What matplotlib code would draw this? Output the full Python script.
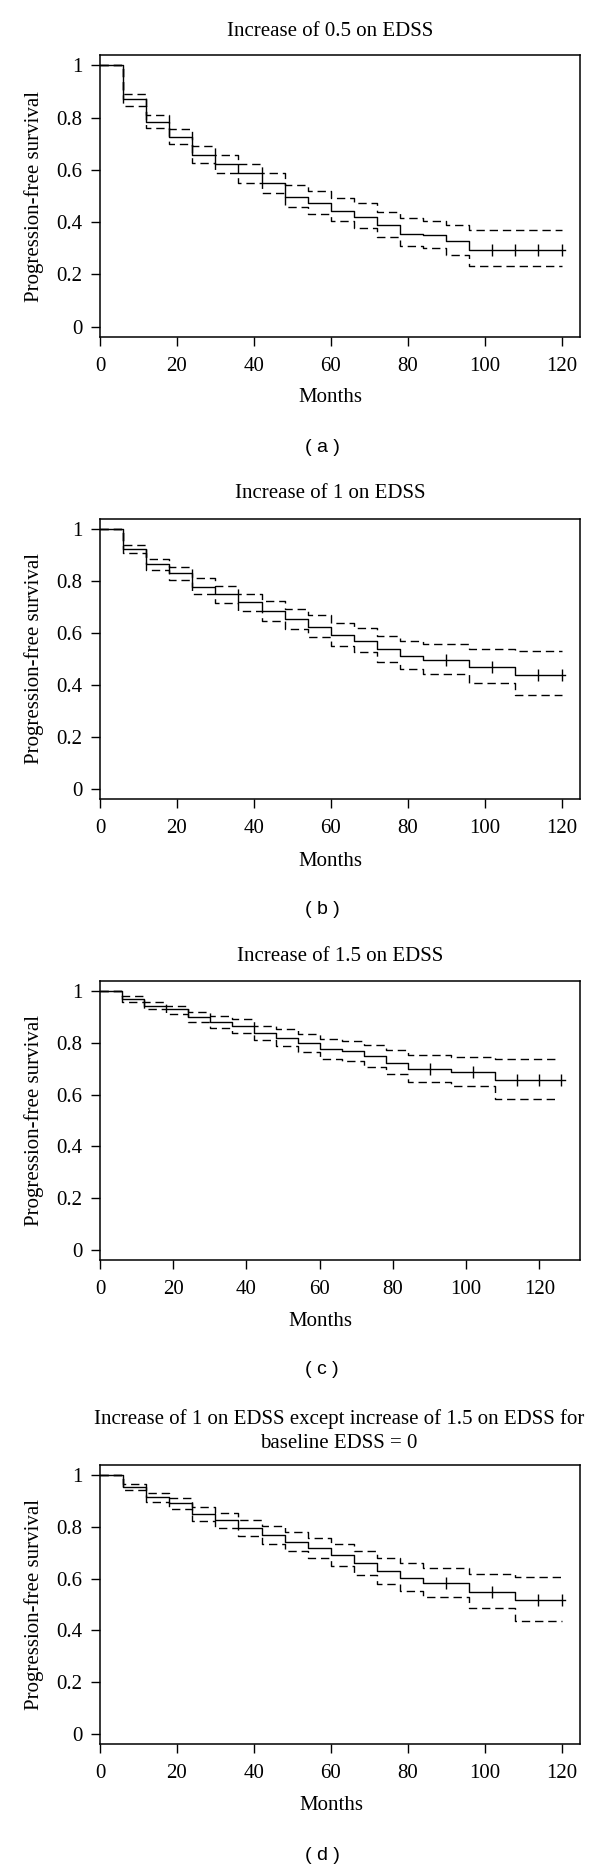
import matplotlib
matplotlib.use("Agg")
import matplotlib.pyplot as plt

plt.rcParams['font.family'] = ['Liberation Serif', 'DejaVu Serif']

# step times (months) shared by all four curves
times = [0, 6, 12, 18, 24, 30, 36, 42, 48, 54, 60, 66, 72, 78, 84, 90, 96]
times_bcd = [0, 6, 12, 18, 24, 30, 36, 42, 48, 54, 60, 66, 72, 78, 84, 96, 108]

# (a) increase of 0.5 on EDSS
surv_a = [1, .872, .785, .726, .656, .622, .587, .549, .495, .472, .444, .421, .388, .356, .349, .327, .295]
upper_a = [1, .892, .81, .756, .69, .656, .623, .587, .541, .518, .491, .472, .44, .414, .405, .388, .369]
lower_a = [1, .846, .759, .699, .626, .587, .551, .51, .456, .432, .405, .378, .344, .308, .299, .273, .232]
censor_a = [102, 108, 114, 120]

# (b) increase of 1 on EDSS
surv_b = [1, .924, .866, .832, .778, .749, .718, .684, .653, .622, .593, .571, .538, .511, .497, .469, .438]
upper_b = [1, .941, .886, .855, .811, .78, .752, .722, .693, .668, .639, .619, .589, .568, .556, .538, .53]
lower_b = [1, .907, .843, .804, .75, .717, .684, .648, .615, .583, .551, .526, .49, .46, .443, .407, .361]
censor_b = [90, 102, 114, 120]

# (c) increase of 1.5 on EDSS
surv_c = [1, .969, .943, .931, .901, .883, .865, .839, .82, .801, .776, .768, .749, .724, .701, .687, .656]
upper_c = [1, .981, .96, .945, .921, .905, .891, .867, .853, .835, .817, .807, .793, .772, .753, .746, .74]
lower_c = [1, .958, .93, .912, .88, .858, .839, .81, .788, .765, .739, .73, .708, .681, .65, .633, .584]
censor_c = [90, 102, 114, 120, 126]

# (d) increase of 1, or 1.5 for baseline EDSS = 0
surv_d = [1, .955, .916, .891, .852, .826, .797, .768, .743, .717, .691, .662, .629, .601, .582, .547, .517]
upper_d = [1, .968, .932, .912, .878, .855, .826, .803, .78, .759, .735, .708, .68, .66, .641, .618, .607]
lower_d = [1, .942, .897, .87, .825, .798, .764, .735, .707, .681, .65, .616, .58, .553, .528, .485, .438]
censor_d = [90, 102, 114, 120]

titles = ['Increase of 0.5 on EDSS', 'Increase of 1 on EDSS', 'Increase of 1.5 on EDSS',
          'Increase of 1 on EDSS except increase of 1.5 on EDSS for\nbaseline EDSS = 0']
letters = ['( a )', '( b )', '( c )', '( d )']

W, H = 600, 1870
FS = 15
fig = plt.figure(figsize=(W / 100, H / 100), dpi=100)

# pixel layout of each panel: top, bottom, xmax, end of curve, title y, title x, months y, months x, letter y
panels = [
    (times, surv_a, upper_a, lower_a, censor_a, 55, 337, 124.8, 121, 120, 32, 330, 398, 330, 448),
    (times_bcd, surv_b, upper_b, lower_b, censor_b, 519, 799, 124.8, 121, 120, 493, 330, 862, 330, 910),
    (times_bcd, surv_c, upper_c, lower_c, censor_c, 981, 1260, 131.1, 127, 125.5, 957, 340, 1322, 320, 1370),
    (times_bcd, surv_d, upper_d, lower_d, censor_d, 1465, 1744, 124.8, 121, 120, 1431, 339, 1806, 331, 1855),
]

for i, (t, s, up, lo, cens, top, bot, xmax, end_s, end_ci, ty, tx, my, mx, ly) in enumerate(panels):
    ax = fig.add_axes([100 / W, 1 - bot / H, 480 / W, (bot - top) / H])
    ax.step(t + [end_s], s + [s[-1]], where='post', color='black', lw=1.0)
    ax.step(t + [end_ci], up + [up[-1]], where='post', color='black', lw=1.0, dashes=(6, 3.5))
    ax.step(t + [end_ci], lo + [lo[-1]], where='post', color='black', lw=1.0, dashes=(6, 3.5))
    # survival level at each censoring time
    cens_y = [s[max(k for k in range(len(t)) if t[k] <= c)] for c in cens]
    ax.plot(cens, cens_y, ls='none', marker='|', ms=9, mew=1.0, color='black')

    ax.set_xlim(0, xmax)
    ax.set_ylim(-0.04, 1.04)
    ax.set_xticks([0, 20, 40, 60, 80, 100, 120])
    ax.set_yticks([0, 0.2, 0.4, 0.6, 0.8, 1])
    ax.set_yticklabels(['0', '0.2', '0.4', '0.6', '0.8', '1'])
    ax.tick_params(direction='out', length=6.5, width=1.0, labelsize=FS, color='black')
    ax.tick_params(axis='x', pad=8)
    ax.tick_params(axis='y', pad=6)
    for sp in ax.spines.values():
        sp.set_linewidth(1.1)
    ax.set_ylabel('Progression-free survival', fontsize=FS, labelpad=9)

    fig.text(tx / W, 1 - ty / H, titles[i], ha='center', va='center', fontsize=FS, linespacing=1.35)
    fig.text(mx / W, 1 - my / H, 'Months', ha='center', va='center', fontsize=FS)
    fig.text(322 / W, 1 - ly / H, letters[i], ha='center', va='center', fontsize=14,
             family=['Liberation Sans', 'DejaVu Sans'])

fig.savefig('out.png', dpi=100)
